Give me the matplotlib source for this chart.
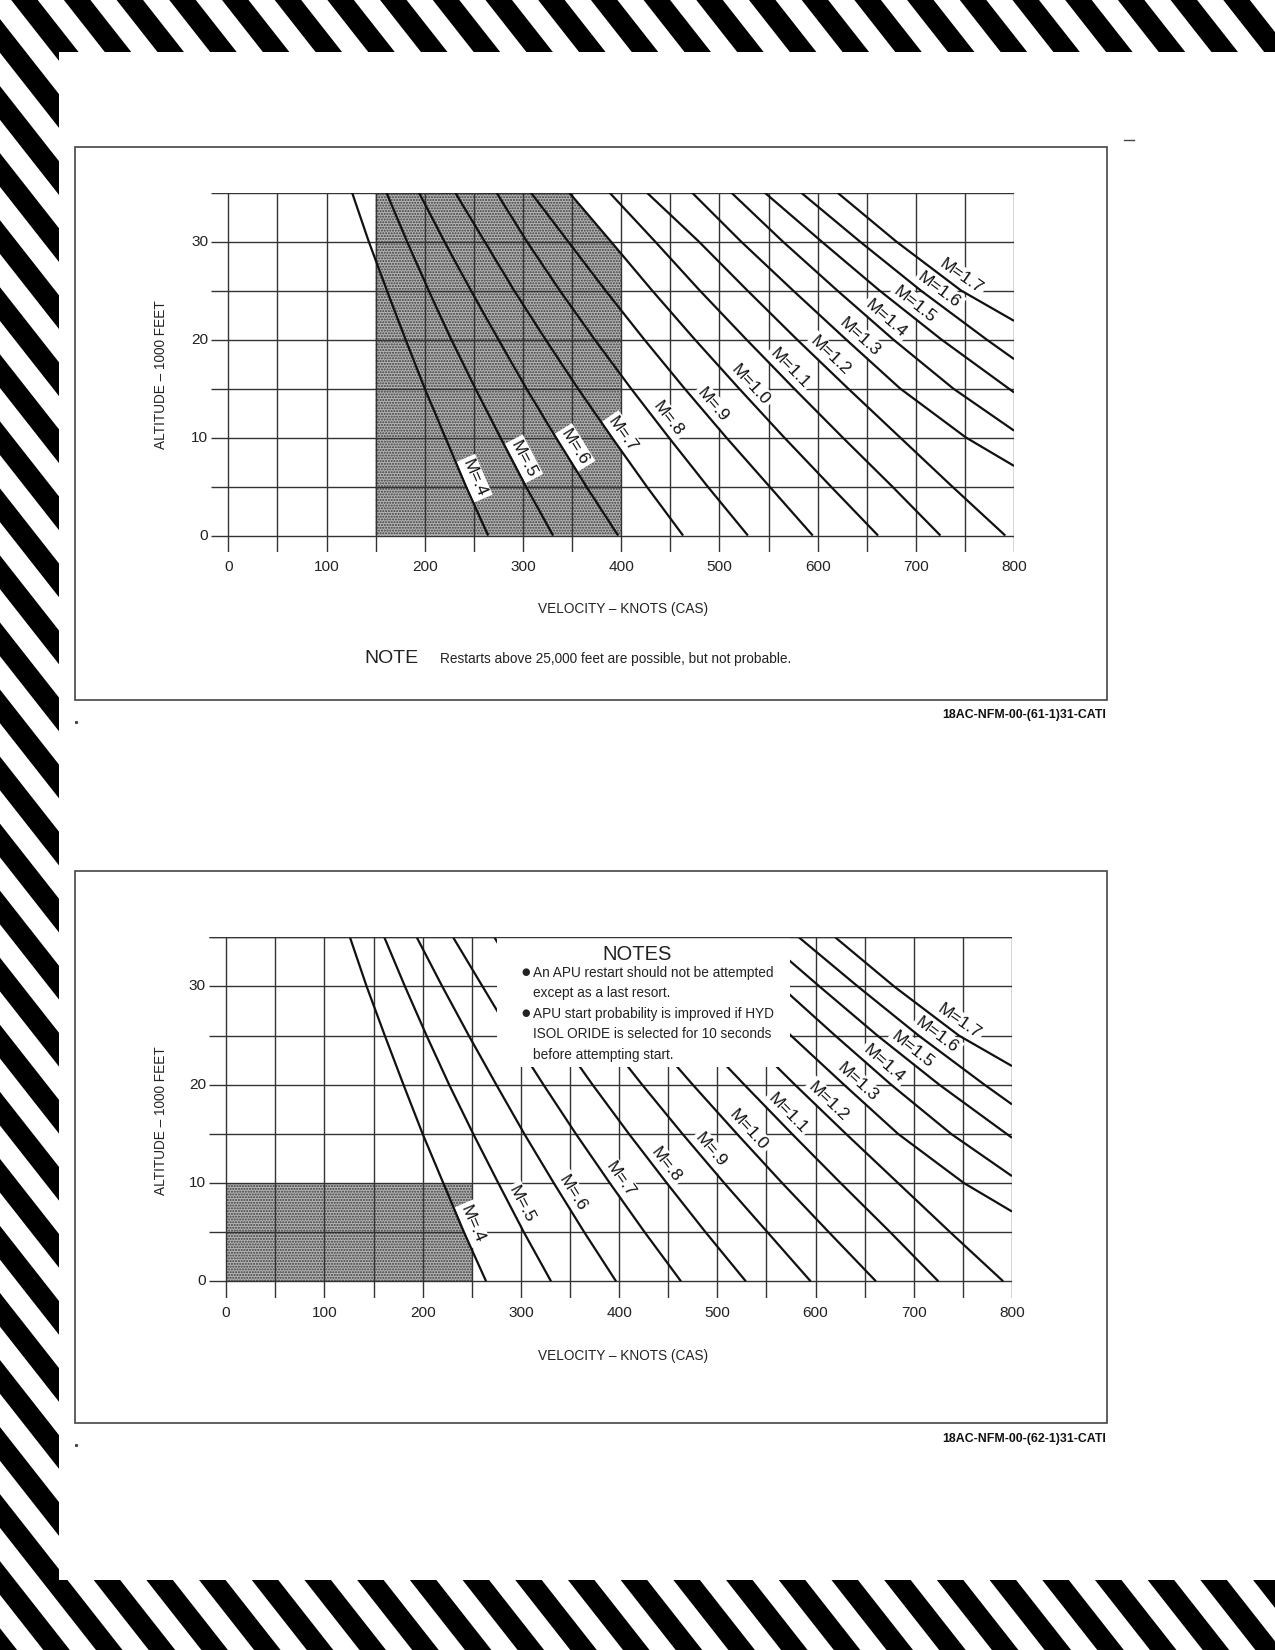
import numpy as np
import matplotlib
matplotlib.use("Agg")
import matplotlib.pyplot as plt
from matplotlib import font_manager
from matplotlib.patches import Polygon, Rectangle

# page size in pixels (dpi 100)
W, H = 1275, 1650

# narrow CAD-like lettering, fall back to regular Liberation if Narrow is missing
NARROW = "Liberation Sans Narrow"
K = 1.0
try:
    font_manager.findfont(font_manager.FontProperties(family=NARROW), fallback_to_default=False)
except ValueError:
    NARROW, K = "Liberation Sans", 0.85
NARROW_FAM = [NARROW, "DejaVu Sans"]
WIDE_FAM = ["Liberation Sans", "DejaVu Sans"]

# ---- data: calibrated airspeed (knots) along constant-Mach lines, altitude in 1000 ft
alt_sub = [0, 5, 10, 15, 20, 25, 30, 35]
cas_m04 = [264.6, 242, 221, 200, 180.5, 161.5, 143, 126]
cas_m05 = [330.7, 303, 277, 251.5, 227, 204, 182, 161]
cas_m06 = [396.9, 364.5, 333.5, 303.5, 275, 247, 220, 194]
cas_m07 = [463, 426, 390.5, 356, 323, 291, 261, 231]
cas_m08 = [529, 488, 448.5, 410, 373, 337.5, 304, 273]
cas_m09 = [595, 551, 507, 464.5, 423.5, 384, 346, 308]
cas_m10 = [661.5, 613.5, 566, 520, 475, 431.5, 389.5, 347]
cas_m11 = [725, 676, 625.5, 576, 527.5, 480, 434.5, 388]
cas_m12 = [791, 737, 684, 631, 579, 528.5, 479, 426]
alt_m13 = [7.1, 10, 15, 20, 25, 30, 35]
cas_m13 = [800, 751, 684, 629, 575, 522, 472]
alt_m14 = [10.7, 15, 20, 25, 30, 35]
cas_m14 = [800, 738, 677, 620, 564.5, 512]
alt_m15 = [14.6, 20, 25, 30, 35]
cas_m15 = [800, 726, 663, 604, 546]
alt_m16 = [18.0, 20, 25, 30, 35]
cas_m16 = [800, 772, 705, 643, 583]
alt_m17 = [21.9, 25, 30, 35]
cas_m17 = [800, 746, 680, 620]

mach_names = ["M=.4", "M=.5", "M=.6", "M=.7", "M=.8", "M=.9", "M=1.0",
              "M=1.1", "M=1.2", "M=1.3", "M=1.4", "M=1.5", "M=1.6", "M=1.7"]
label_alt = [5.4, 7.3, 8.4, 9.7, 11.2, 12.6, 14.6, 16.3, 17.5, 19.4, 21.3, 22.7, 24.1, 25.5]

mach_lines = [
    (alt_sub, cas_m04), (alt_sub, cas_m05), (alt_sub, cas_m06), (alt_sub, cas_m07),
    (alt_sub, cas_m08), (alt_sub, cas_m09), (alt_sub, cas_m10), (alt_sub, cas_m11),
    (alt_sub, cas_m12), (alt_m13, cas_m13), (alt_m14, cas_m14), (alt_m15, cas_m15),
    (alt_m16, cas_m16), (alt_m17, cas_m17),
]

x_grid = list(range(0, 801, 50))
y_grid = list(range(0, 36, 5))
x_ticks = list(range(0, 801, 100))
y_ticks = [0, 10, 20, 30]

# restart envelopes
shade_top_v = [150, 400]          # knots, limited above by M=1.0
shade_bot_v = [0, 250]            # knots
shade_bot_h = [0, 10]             # 1000 ft

note_top = "Restarts above 25,000 feet are possible, but not probable."
notes_bot = ["An APU restart should not be attempted",
             "except as a last resort.",
             "APU start probability is improved if HYD",
             "ISOL ORIDE is selected for 10 seconds",
             "before attempting start."]
fig_ids = ["18AC-NFM-00-(61-1)31-CATI", "18AC-NFM-00-(62-1)31-CATI"]

GRID = "#333333"
LINE = "#111111"
XMIN, YMIN = -18, -1.7
LABEL_GAP = 8.0   # points, labels sit just right of their line

fig = plt.figure(figsize=(W / 100, H / 100), dpi=100)


def fx(x):
    return x / W


def fy(y):
    return 1 - y / H


def px_axes(left, top, right, bottom, z=1):
    return fig.add_axes([left / W, 1 - bottom / H, (right - left) / W, (bottom - top) / H], zorder=z)


# ---- hazard stripe border
bg = px_axes(0, 0, W, H, z=0)
bg.set_xlim(0, W)
bg.set_ylim(H, 0)
bg.axis("off")
slope, period, band, x0 = 0.786, 52.7, 26.5, 63.9
for k in range(-30, 28):
    xa = x0 + k * period
    y1, y2 = -10, H + 10
    bg.add_patch(Polygon([(xa + slope * y1, y1), (xa + band + slope * y1, y1),
                          (xa + band + slope * y2, y2), (xa + slope * y2, y2)],
                         closed=True, fc="black", ec="none", zorder=1))
bg.add_patch(Rectangle((59.3, 52.3), W, 1580 - 52.3, fc="white", ec="none", zorder=2))

# figure frames and small marks
for top in (147.3, 871.1):
    bg.add_patch(Rectangle((74.7, top), 1032, 552.3, fill=False, ec="#444444", lw=1.2, zorder=3))
bg.plot([1123.5, 1134], [140, 140], color="#444444", lw=1.0, zorder=3)
bg.plot([75.5, 75.5], [722, 1445], ls="none", marker="s", ms=1.2, color="#444444", zorder=3)


def draw_chart(ax, bottom_notes):
    ax.set_xlim(XMIN, 800)
    ax.set_ylim(YMIN, 35)
    ax.axis("off")

    ax.hlines(y_grid, XMIN, 800, color=GRID, lw=1.0, zorder=2)
    ax.vlines(x_grid, YMIN, 35, color=GRID, lw=1.0, zorder=2)

    for v in x_ticks:
        ax.text(v, -3.25, str(v), ha="center", va="center", fontsize=13 * K,
                family=NARROW_FAM, color="#222222", clip_on=False)
    for h in y_ticks:
        ax.text(XMIN - 2.5, h, str(h), ha="right", va="center", fontsize=13 * K,
                family=NARROW_FAM, color="#222222", clip_on=False)

    if not bottom_notes:
        # shaded envelope: 150-400 kt, capped by the M=1.0 line
        a400 = np.interp(shade_top_v[1], cas_m10[::-1], alt_sub[::-1])
        pts = [(shade_top_v[0], 0), (shade_top_v[1], 0), (shade_top_v[1], a400)]
        pts += [(c, a) for c, a in zip(cas_m10, alt_sub) if c < shade_top_v[1]]
        pts += [(shade_top_v[0], 35)]
        ax.add_patch(Polygon(pts, closed=True, fc="#b5b5b5", ec="#3a3a3a", lw=0,
                             hatch="......", zorder=1))
    else:
        ax.add_patch(Rectangle((shade_bot_v[0], shade_bot_h[0]), shade_bot_v[1] - shade_bot_v[0],
                               shade_bot_h[1] - shade_bot_h[0], fc="#b5b5b5", ec="#3a3a3a",
                               lw=0, hatch="......", zorder=1))

    for (alts, cas), name, la in zip(mach_lines, mach_names, label_alt):
        ax.plot(cas, alts, color=LINE, lw=1.6, zorder=7, solid_capstyle="butt")
        order = np.argsort(alts)
        a_s = np.array(alts)[order]
        c_s = np.array(cas)[order]
        xl = np.interp(la, a_s, c_s)
        p1 = ax.transData.transform((np.interp(la + 1, a_s, c_s), la + 1))
        p2 = ax.transData.transform((np.interp(la - 1, a_s, c_s), la - 1))
        ang = np.arctan2(p2[1] - p1[1], p2[0] - p1[0])
        # normal pointing to the right-hand (upper right) side of the line
        nx, ny = -np.sin(ang), np.cos(ang)
        if nx < 0:
            nx, ny = -nx, -ny
        ax.annotate(name, xy=(xl, la), xytext=(LABEL_GAP * nx, LABEL_GAP * ny),
                    textcoords="offset points", rotation=np.degrees(ang),
                    rotation_mode="anchor", ha="center", va="center",
                    fontsize=12.5, family=WIDE_FAM, color="#111111", zorder=6,
                    bbox=dict(boxstyle="square,pad=0.15", fc="white", ec="none"))

    if bottom_notes:
        ax.add_patch(Rectangle((276, 21.8), 574 - 276, 35 - 21.8, fc="white", ec="none", zorder=8))
        ax.hlines([35], XMIN, 800, color=GRID, lw=1.0, zorder=8.5)


ax_top = px_axes(210.6, 192.5, 1014.1, 552.2, z=2)
draw_chart(ax_top, False)
ax_bot = px_axes(208.5, 937.3, 1012.0, 1298.0, z=2)
draw_chart(ax_bot, True)

# axis titles
for yc in (374.5, 1120.4):
    fig.text(fx(161), fy(yc), "ALTITUDE – 1000 FEET", rotation=90, ha="center", va="center",
             fontsize=11.5 * K, family=NARROW_FAM, color="#222222", zorder=5)
for yc in (609.1, 1356.0):
    fig.text(fx(622.8), fy(yc), "VELOCITY – KNOTS (CAS)", ha="center", va="center",
             fontsize=11.5 * K, family=NARROW_FAM, color="#222222", zorder=5)

# top chart note
fig.text(fx(364), fy(662.8), "NOTE", ha="left", va="baseline", fontsize=14,
         family=WIDE_FAM, color="#222222", zorder=5)
fig.text(fx(439.7), fy(662.8), note_top, ha="left", va="baseline", fontsize=11.5 * K,
         family=NARROW_FAM, color="#222222", zorder=5)

# bottom chart notes
fig.text(fx(636.7), fy(954.3), "NOTES", ha="center", va="center", fontsize=14.5,
         family=WIDE_FAM, color="#222222", zorder=5)
line_y = [973.3, 993.3, 1014.3, 1034.3, 1055.0]
for i, (t, yc) in enumerate(zip(notes_bot, line_y)):
    fig.text(fx(533.3), fy(yc), t, ha="left", va="center", fontsize=11.5 * K,
             family=NARROW_FAM, color="#222222", zorder=5)
    if i in (0, 2):
        fig.text(fx(526), fy(yc - 1), "●", ha="center", va="center", fontsize=7,
                 family=["DejaVu Sans"], color="#222222", zorder=5)

# figure ids
for yc, t in zip((715.4, 1439.1), fig_ids):
    fig.text(fx(1105.7), fy(yc), t, ha="right", va="center", fontsize=10.5 * K,
             family=NARROW_FAM, weight="bold", color="#111111", zorder=5)

fig.savefig("out.png", dpi=100)
